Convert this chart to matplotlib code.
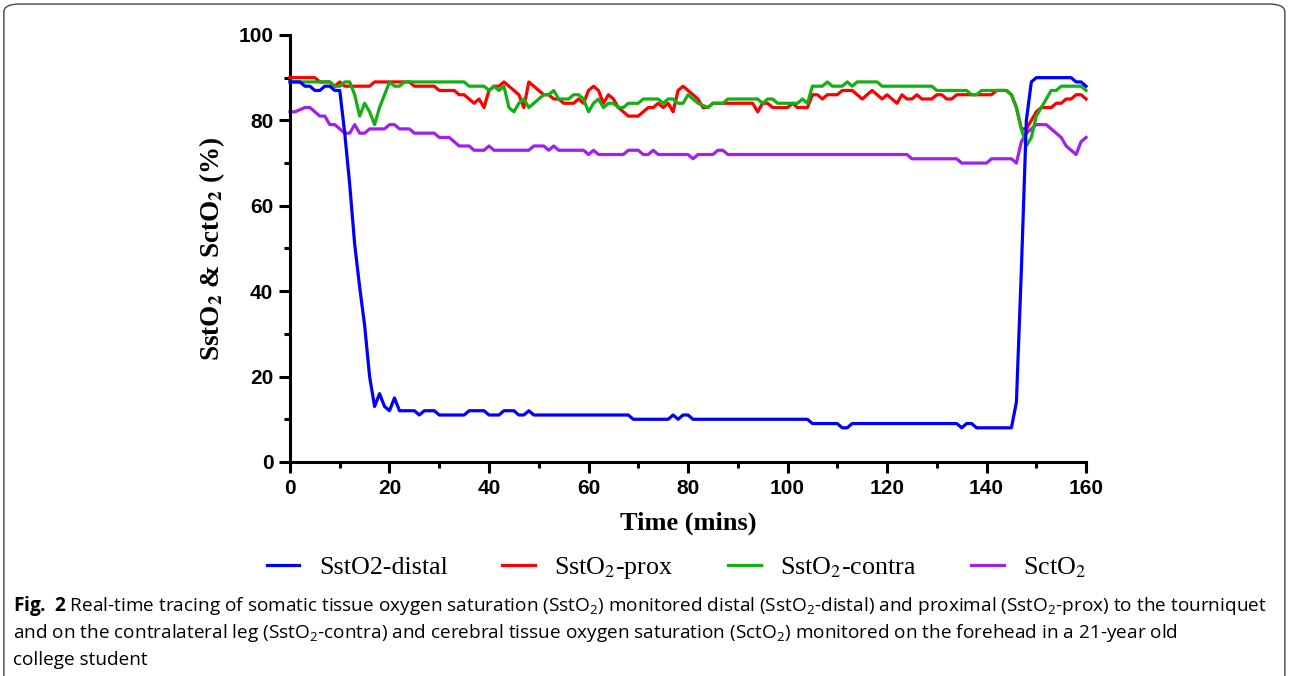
import matplotlib.pyplot as plt
from matplotlib.patches import FancyBboxPatch
from matplotlib.ticker import MultipleLocator

# sampling grid (one reading per minute)
minutes = list(range(0, 161))

# SstO2 distal to the tourniquet
distal = [89, 89, 89, 88, 88, 87, 87, 88, 88, 87,
          87, 77, 65, 51, 41, 32, 20, 13, 16, 13,
          12, 15, 12, 12, 12, 12, 11, 12, 12, 12,
          11, 11, 11, 11, 11, 11, 12, 12, 12, 12,
          11, 11, 11, 12, 12, 12, 11, 11, 12, 11,
          11, 11, 11, 11, 11, 11, 11, 11, 11, 11,
          11, 11, 11, 11, 11, 11, 11, 11, 11, 10,
          10, 10, 10, 10, 10, 10, 10, 11, 10, 11,
          11, 10, 10, 10, 10, 10, 10, 10, 10, 10,
          10, 10, 10, 10, 10, 10, 10, 10, 10, 10,
          10, 10, 10, 10, 10, 9, 9, 9, 9, 9,
          9, 8, 8, 9, 9, 9, 9, 9, 9, 9,
          9, 9, 9, 9, 9, 9, 9, 9, 9, 9,
          9, 9, 9, 9, 9, 8, 9, 9, 8, 8,
          8, 8, 8, 8, 8, 8, 14, 45, 80, 89,
          90, 90, 90, 90, 90, 90, 90, 90, 89, 89, 88]

# SstO2 proximal to the tourniquet
prox = [90, 90, 90, 90, 90, 90, 89, 89, 89, 88,
        89, 88, 88, 88, 88, 88, 88, 89, 89, 89,
        89, 89, 89, 89, 89, 88, 88, 88, 88, 88,
        87, 87, 87, 87, 86, 86, 85, 84, 85, 83,
        87, 88, 88, 89, 88, 87, 86, 83, 89, 88,
        87, 86, 86, 85, 85, 84, 84, 84, 85, 84,
        87, 88, 87, 84, 86, 85, 83, 82, 81, 81,
        81, 82, 83, 83, 84, 83, 84, 82, 87, 88,
        87, 86, 85, 83, 83, 84, 84, 84, 84, 84,
        84, 84, 84, 84, 82, 84, 84, 83, 83, 83,
        83, 84, 83, 83, 83, 86, 86, 85, 86, 86,
        86, 87, 87, 87, 86, 85, 86, 87, 86, 85,
        86, 85, 84, 86, 85, 85, 86, 85, 85, 85,
        86, 86, 85, 85, 86, 86, 86, 86, 86, 86,
        86, 86, 87, 87, 87, 86, 83, 78, 78, 80,
        82, 83, 83, 83, 84, 84, 85, 85, 86, 86, 85]

# SstO2 on the contralateral leg
contra = [89, 89, 89, 89, 89, 89, 89, 89, 89, 88,
          88, 89, 89, 86, 81, 84, 82, 79, 83, 86,
          89, 88, 88, 89, 89, 89, 89, 89, 89, 89,
          89, 89, 89, 89, 89, 89, 88, 88, 88, 88,
          87, 88, 87, 88, 83, 82, 84, 85, 83, 84,
          85, 86, 86, 87, 85, 85, 85, 86, 86, 85,
          82, 84, 85, 83, 84, 84, 83, 83, 84, 84,
          84, 85, 85, 85, 85, 84, 85, 85, 84, 84,
          86, 85, 84, 83.5, 83, 84, 84, 84, 85, 85,
          85, 85, 85, 85, 85, 84, 85, 85, 84, 84,
          84, 84, 84, 85, 84, 88, 88, 88, 89, 88,
          88, 88, 89, 88, 89, 89, 89, 89, 89, 88,
          88, 88, 88, 88, 88, 88, 88, 88, 88, 88,
          87, 87, 87, 87, 87, 87, 87, 86, 86, 87,
          87, 87, 87, 87, 87, 86, 83, 78, 74, 76,
          81, 83, 85, 87, 87, 88, 88, 88, 88, 88, 87]

# SctO2 on the forehead
sct = [82, 82, 82.5, 83, 83, 82, 81, 81, 79, 79,
       78, 77, 77, 79, 77, 77, 78, 78, 78, 78,
       79, 79, 78, 78, 78, 77, 77, 77, 77, 77,
       76, 76, 76, 75, 74, 74, 74, 73, 73, 73,
       74, 73, 73, 73, 73, 73, 73, 73, 73, 74,
       74, 74, 73, 74, 73, 73, 73, 73, 73, 73,
       72, 73, 72, 72, 72, 72, 72, 72, 73, 73,
       73, 72, 72, 73, 72, 72, 72, 72, 72, 72,
       72, 71, 72, 72, 72, 72, 73, 73, 72, 72,
       72, 72, 72, 72, 72, 72, 72, 72, 72, 72,
       72, 72, 72, 72, 72, 72, 72, 72, 72, 72,
       72, 72, 72, 72, 72, 72, 72, 72, 72, 72,
       72, 72, 72, 72, 72, 71, 71, 71, 71, 71,
       71, 71, 71, 71, 71, 70, 70, 70, 70, 70,
       70, 71, 71, 71, 71, 71, 70, 75, 77, 78,
       79, 79, 79, 78, 77, 76, 74, 73, 72, 75, 76]

series = [distal, prox, contra, sct]
labels = ['SstO2-distal', r'SstO$_2$-prox', r'SstO$_2$-contra', r'SctO$_2$']
colors = ['#0000ff', '#ff0000', '#12b012', '#a020f0']
zorders = [5, 3, 4, 2]

caption = [
    r'$\mathbf{Fig.}$ $\mathbf{2}$ Real-time tracing of somatic tissue oxygen saturation (SstO$_\mathrm{2}$) '
    r'monitored distal (SstO$_\mathrm{2}$-distal) and proximal (SstO$_\mathrm{2}$-prox) to the tourniquet',
    r'and on the contralateral leg (SstO$_\mathrm{2}$-contra) and cerebral tissue oxygen saturation '
    r'(SctO$_\mathrm{2}$) monitored on the forehead in a 21-year old',
    'college student',
]

cap_font = 'Open Sans'
plt.rcParams['font.family'] = 'Liberation Sans'
plt.rcParams['mathtext.fontset'] = 'stix'
plt.rcParams['mathtext.rm'] = cap_font
plt.rcParams['mathtext.bf'] = cap_font + ':bold'

fig = plt.figure(figsize=(12.9, 6.76), dpi=100)
ax = fig.add_axes([0.2248, 0.3166, 0.6171, 0.6317])

handles = []
for vals, lab, col, z in zip(series, labels, colors, zorders):
    ln, = ax.plot(minutes, vals, color=col, lw=2.3, label=lab, zorder=z, clip_on=False)
    handles.append(ln)

ax.set_xlim(0, 160)
ax.set_ylim(0, 100)
ax.xaxis.set_major_locator(MultipleLocator(20))
ax.xaxis.set_minor_locator(MultipleLocator(10))
ax.yaxis.set_major_locator(MultipleLocator(20))
ax.yaxis.set_minor_locator(MultipleLocator(10))
ax.tick_params(which='major', length=8, width=2.2, labelsize=15, pad=4)
ax.tick_params(which='minor', length=4.5, width=2.2)
for lbl in ax.get_xticklabels() + ax.get_yticklabels():
    lbl.set_fontweight('bold')
for s in ['top', 'right']:
    ax.spines[s].set_visible(False)
for s in ['left', 'bottom']:
    ax.spines[s].set_linewidth(2.2)

ax.set_xlabel('Time (mins)', fontfamily='Liberation Serif', fontweight='bold', fontsize=19, labelpad=10)
ax.set_ylabel(r'SstO$_\mathbf{2}$ & SctO$_\mathbf{2}$ (%)', fontfamily='Liberation Serif',
              fontweight='bold', fontsize=19.5, labelpad=8)

fig.legend(handles, labels, loc='center', bbox_to_anchor=(0.5245, 1 - 568 / 676), ncol=4,
           frameon=False, prop={'family': 'Liberation Serif', 'size': 18.7},
           handlelength=1.25, handletextpad=0.75, columnspacing=2.1)

# caption under the figure
for i, line in enumerate(caption):
    fig.text(0.01, 0.0962 - i * 0.04, line, fontfamily=cap_font, fontsize=13.65,
             math_fontfamily='custom', va='baseline')

fig.add_artist(FancyBboxPatch((0.003, -0.05), 0.993, 1.044, boxstyle='round,pad=0,rounding_size=0.012',
                              transform=fig.transFigure, fill=False, edgecolor='#444444', lw=1.0))

fig.savefig('out.png', dpi=100)
